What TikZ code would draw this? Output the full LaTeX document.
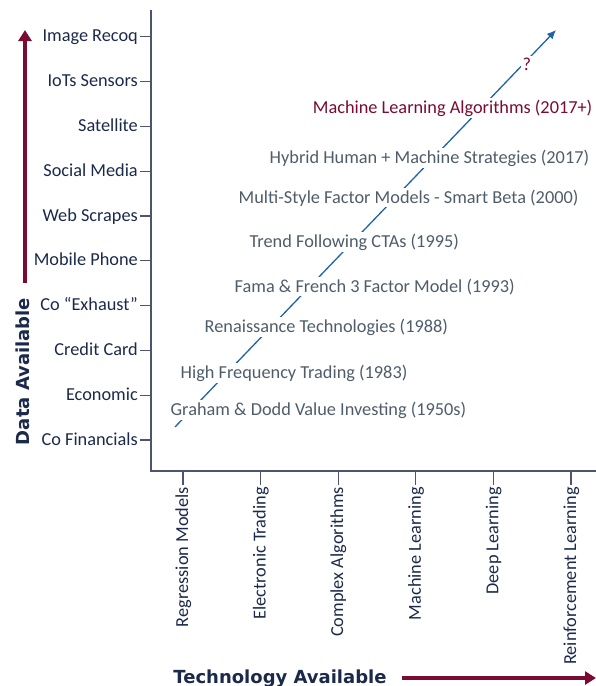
\documentclass[tikz,border=0pt]{standalone}
\usepackage{fontspec}
\setmainfont{Carlito}
\newfontfamily\heavyfont{DejaVu Sans}
\usetikzlibrary{arrows.meta}

\definecolor{navy}{HTML}{1B2A4A}
\definecolor{slate}{HTML}{4F5D6B}
\definecolor{wine}{HTML}{7A0B32}
\definecolor{trendblue}{HTML}{1E63A6}
\definecolor{axisgrey}{HTML}{4B566E}

\begin{document}
\begin{tikzpicture}[
		x=1pt, y=-1pt,
		axis/.style={draw=axisgrey, line width=1.1pt},
		datalabel/.style={anchor=east, text=navy, inner sep=2pt, text height=13pt, text depth=3pt, font=\fontsize{18.3}{20}\selectfont},
		techlabel/.style={anchor=east, rotate=90, text=navy, inner sep=2pt, text height=13pt, text depth=3pt, font=\fontsize{18.3}{20}\selectfont},
		event/.style={anchor=base west, fill=white, text=slate, inner sep=1.5pt, font=\fontsize{18.3}{20}\selectfont},
		heading/.style={text=navy, inner sep=0pt, font=\heavyfont\bfseries\fontsize{18}{20}\selectfont},
		bigarrow/.style={draw=wine, line width=4.5pt, -{Triangle[length=11pt,width=13pt]}}
	]
	\useasboundingbox (0,0) rectangle (596,686);

	% axes
	\coordinate (ytop) at (151,10);
	\coordinate (origin) at (151,471);
	\coordinate (xend) at (596,471);
	\draw[axis] (ytop) -- (origin) -- (xend);

	\foreach \t [count=\i] in {Co Financials, Economic, Credit Card, Co “Exhaust”, Mobile Phone, Web Scrapes, Social Media, Satellite, IoTs Sensors, Image Recoq} {
			\coordinate (dt\i) at (151,{440-(\i-1)*44.8});
			\node[datalabel] (d\i) at (140,{440-(\i-1)*44.8}) {\t};
			\draw[axis] (dt\i) -- (d\i);
		}

	\foreach \t [count=\i] in {Regression Models, Electronic Trading, Complex Algorithms, Machine Learning, Deep Learning, Reinforcement Learning} {
			\coordinate (xt\i) at ({183+(\i-1)*77.6},471);
			\node[techlabel] (t\i) at ({183+(\i-1)*77.6},485) {\t};
			\draw[axis] (xt\i) -- (t\i);
		}

	% axis titles
	\node[heading, rotate=90, anchor=base] (datatitle) at (29,371.5) {Data Available};
	\coordinate (dstart) at (25,283);
	\coordinate (dtip) at (25,30);
	\draw[bigarrow] (dstart) -- (dtip);

	\node[heading, anchor=base] (techtitle) at (280,683) {Technology Available};
	\coordinate (tstart) at (402,678);
	\coordinate (ttip) at (596,678);
	\draw[bigarrow] (tstart) -- (ttip);

	% trend line, labels on top
	\coordinate (trendstart) at (175,427);
	\coordinate (trendtip) at (556,30);
	\draw[trendblue, line width=1.3pt, -{Latex[length=9pt,width=8pt]}] (trendstart) -- (trendtip);

	\node[event] (graham) at (169,415) {Graham \& Dodd Value Investing (1950s)};
	\node[event] (hft) at (179,378) {High Frequency Trading (1983)};
	\node[event] (rentec) at (203,332) {Renaissance Technologies (1988)};
	\node[event] (famafrench) at (233,292) {Fama \& French 3 Factor Model (1993)};
	\node[event] (trendcta) at (248,247) {Trend Following CTAs (1995)};
	\node[event] (smartbeta) at (237,203) {Multi-Style Factor Models - Smart Beta (2000)};
	\node[event] (hybrid) at (268,163) {Hybrid Human + Machine Strategies (2017)};
	\node[event, anchor=base east, text=wine] (mlalgo) at (594,113) {Machine Learning Algorithms (2017+)};
	\node[event, text=wine] (unknown) at (521,70) {?};
\end{tikzpicture}
\end{document}
